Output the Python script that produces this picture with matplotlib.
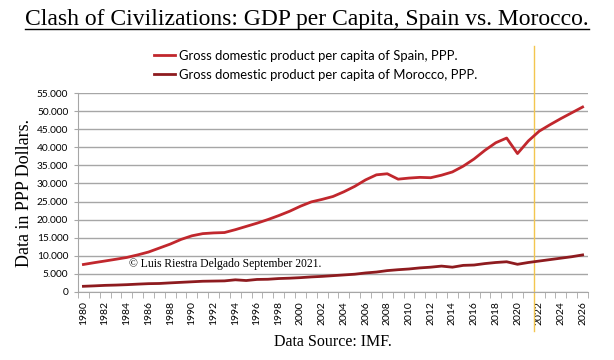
import matplotlib
matplotlib.use("Agg")
import matplotlib.pyplot as plt
from matplotlib.ticker import FuncFormatter, MultipleLocator

years = list(range(1980, 2027))

spain = [
    7550, 8050, 8520, 9000, 9500, 10200, 11000, 12100, 13200, 14500,
    15500, 16100, 16300, 16400, 17200, 18100, 19000, 20000, 21100, 22300,
    23700, 24900, 25600, 26400, 27700, 29200, 31000, 32400, 32700, 31200,
    31500, 31700, 31600, 32300, 33200, 34800, 36800, 39200, 41300, 42600,
    38300, 41800, 44500, 46300, 48000, 49600, 51200,
]
morocco = [
    1500, 1620, 1760, 1840, 1950, 2100, 2230, 2280, 2450, 2600,
    2750, 2900, 2950, 3000, 3300, 3100, 3400, 3450, 3650, 3750,
    3900, 4100, 4250, 4450, 4650, 4850, 5200, 5450, 5850, 6100,
    6300, 6600, 6800, 7100, 6800, 7300, 7400, 7800, 8100, 8300,
    7600, 8100, 8500, 8900, 9300, 9700, 10200,
]
marker_year = 2021.5

title = "Clash of Civilizations: GDP per Capita, Spain vs. Morocco."
spain_label = "Gross domestic product per capita of Spain, PPP."
morocco_label = "Gross domestic product per capita of Morocco, PPP."

serif = "Liberation Serif"
sans = "Lato"

fig = plt.figure(figsize=(6.14, 3.6), dpi=100)
ax = fig.add_axes([0.127, 0.1897, 0.8307, 0.5511])

ax.plot(years, spain, color="#c1272d", linewidth=2.0, solid_joinstyle="round",
        label=spain_label)
ax.plot(years, morocco, color="#8e1b1f", linewidth=2.0, solid_joinstyle="round",
        label=morocco_label)

ax.set_xlim(years[0] - 0.5, years[-1] + 0.5)
ax.set_ylim(0, 55000)

# y axis
ax.yaxis.set_major_locator(MultipleLocator(5000))
ax.yaxis.set_major_formatter(FuncFormatter(lambda v, p: f"{int(v):,}".replace(",", ".")))
ax.grid(axis="y", color="#a6a6a6", linewidth=1.0)
ax.set_axisbelow(True)
ax.tick_params(axis="y", length=3, color="#a6a6a6", labelsize=7.3, pad=4)
for lab in ax.get_yticklabels():
    lab.set_family(sans)

# x axis: labels every 2 years, ticks between categories
ax.set_xticks(years[::2])
ax.set_xticklabels([str(y) for y in years[::2]], rotation=90, fontsize=7.5, family=sans)
ax.set_xticks([y - 0.5 for y in years] + [years[-1] + 0.5], minor=True)
ax.tick_params(axis="x", which="major", length=0, pad=7)
ax.tick_params(axis="x", which="minor", length=4, color="#a6a6a6")

for side in ["top", "right"]:
    ax.spines[side].set_visible(False)
for side in ["left", "bottom"]:
    ax.spines[side].set_color("#a6a6a6")

# yellow marker line crossing the axes
ax.plot([marker_year, marker_year], [-0.2, 1.24], color="#f3c64f", linewidth=1.0,
        transform=ax.get_xaxis_transform(), clip_on=False, zorder=1)

ax.set_ylabel("Data in PPP Dollars.", family=serif, fontsize=13, labelpad=3)
ax.set_xlabel("Data Source: IMF.", family=serif, fontsize=11.5, labelpad=6)

ax.text(1984.2, 7700, "\u00a9 Luis Riestra Delgado September 2021.", family=serif,
        fontsize=8.4, va="center", ha="left")

leg = fig.legend(loc="upper left", bbox_to_anchor=(0.232, 0.895), ncol=1, frameon=False,
                 prop={"family": sans, "size": 9.4}, handlelength=1.6,
                 handletextpad=0.3, labelspacing=0.55)

t = fig.text(0.5, 0.945, title, family=serif, fontsize=17, ha="center", va="center")
fig.canvas.draw()
bb = t.get_window_extent().transformed(fig.transFigure.inverted())
fig.add_artist(plt.Line2D([bb.x0, bb.x1], [bb.y0 + 0.004, bb.y0 + 0.004],
                          color="black", linewidth=1.0, transform=fig.transFigure))

fig.savefig("out.png", dpi=100)
